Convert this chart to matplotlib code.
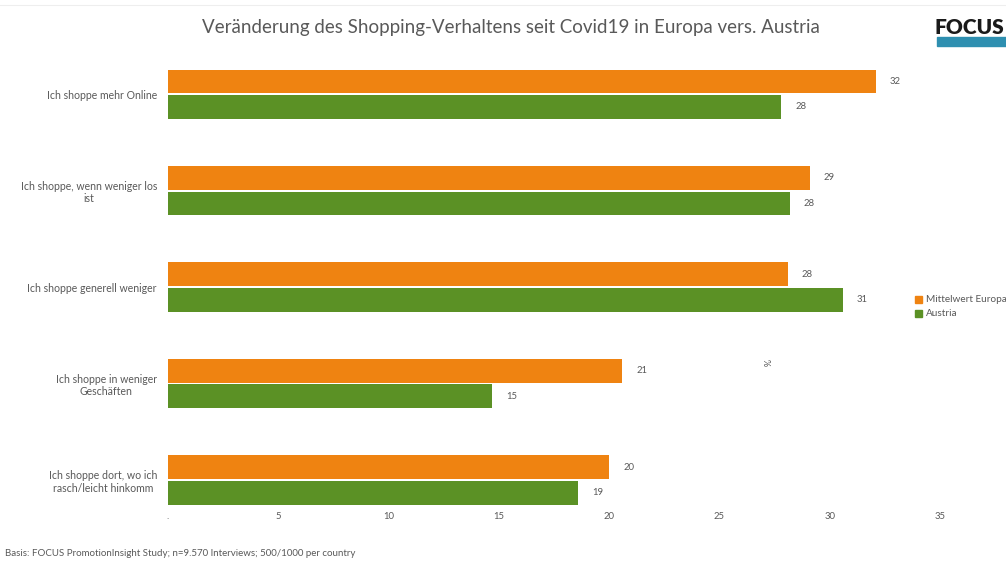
import matplotlib.pyplot as plt
import matplotlib.patches as mpatches
import numpy as np

# Survey answers (percent), top to bottom
categories = [
    "Ich shoppe mehr Online",
    "Ich shoppe, wenn weniger los\nist",
    "Ich shoppe generell weniger",
    "Ich shoppe in weniger\nGeschäften",
    "Ich shoppe dort, wo ich\nrasch/leicht hinkomm",
]
europa = [32.1, 29.1, 28.1, 20.6, 20.0]
austria = [27.8, 28.2, 30.6, 14.7, 18.6]
xticks = [0, 5, 10, 15, 20, 25, 30, 35]

ORANGE = "#EF8311"
GREEN = "#5B9125"
GREY = "#595959"

plt.rcParams['font.family'] = ['Lato', 'DejaVu Sans']

fig = plt.figure(figsize=(10.06, 5.61), dpi=100)
ax = fig.add_axes([168 / 1006, 1 - 506 / 561, (940 - 168) / 1006, (506 - 46) / 561])

y = np.arange(len(categories))
h = 0.245
b1 = ax.barh(y - h / 2 - 0.01, europa, height=h, color=ORANGE, label="Mittelwert Europa")
b2 = ax.barh(y + h / 2 + 0.01, austria, height=h, color=GREEN, label="Austria")
ax.bar_label(b1, fmt="{:.0f}", padding=10, fontsize=6.8, color=GREY)
ax.bar_label(b2, fmt="{:.0f}", padding=10, fontsize=6.8, color=GREY)

ax.set_xlim(0, 35)
ax.set_ylim(4.27, -0.5)
ax.set_xticks(xticks)
ax.set_xticklabels([str(t) if t else "." for t in xticks], fontsize=6.8, color=GREY)
ax.set_yticks(y)
ax.set_yticklabels(categories, fontsize=7.6, color=GREY, multialignment="center")
ax.tick_params(length=0)
ax.tick_params(axis="x", pad=4)
ax.tick_params(axis="y", pad=8)
for s in ax.spines.values():
    s.set_visible(False)

# rotated axis title
fig.text(765 / 1006, 1 - 363 / 561, "%", rotation=270, fontsize=6.5, color=GREY,
         ha="center", va="center")

fig.text(511 / 1006, 1 - 28 / 561,
         "Veränderung des Shopping-Verhaltens seit Covid19 in Europa vers. Austria",
         fontsize=13.5, color=GREY, ha="center", va="center")

fig.text(5 / 1006, 1 - 554 / 561,
         "Basis: FOCUS PromotionInsight Study; n=9.570 Interviews; 500/1000 per country",
         fontsize=7, color=GREY, ha="left", va="center")

# logo
fig.patches.append(mpatches.Rectangle((937 / 1006, 1 - 46 / 561), 69 / 1006, 9 / 561,
                                      transform=fig.transFigure, color="#2E8FB0"))
fig.text(935 / 1006, 1 - 28 / 561, "FOCUS", fontsize=15, fontweight="heavy",
         color="#1A1A1A", ha="left", va="center")

# thin separator at the top
fig.add_artist(plt.Line2D([0, 1], [1 - 5 / 561] * 2, color="#EEEEEE", lw=0.8))

handles = [mpatches.Patch(color=ORANGE), mpatches.Patch(color=GREEN)]
fig.legend(handles, ["Mittelwert Europa", "Austria"], loc="center left",
           bbox_to_anchor=(906 / 1006, 1 - 307 / 561), frameon=False, fontsize=7.2,
           labelcolor=GREY, handlelength=0.7, handleheight=0.7, handletextpad=0.4,
           labelspacing=0.5)

fig.savefig("out.png", dpi=100)
